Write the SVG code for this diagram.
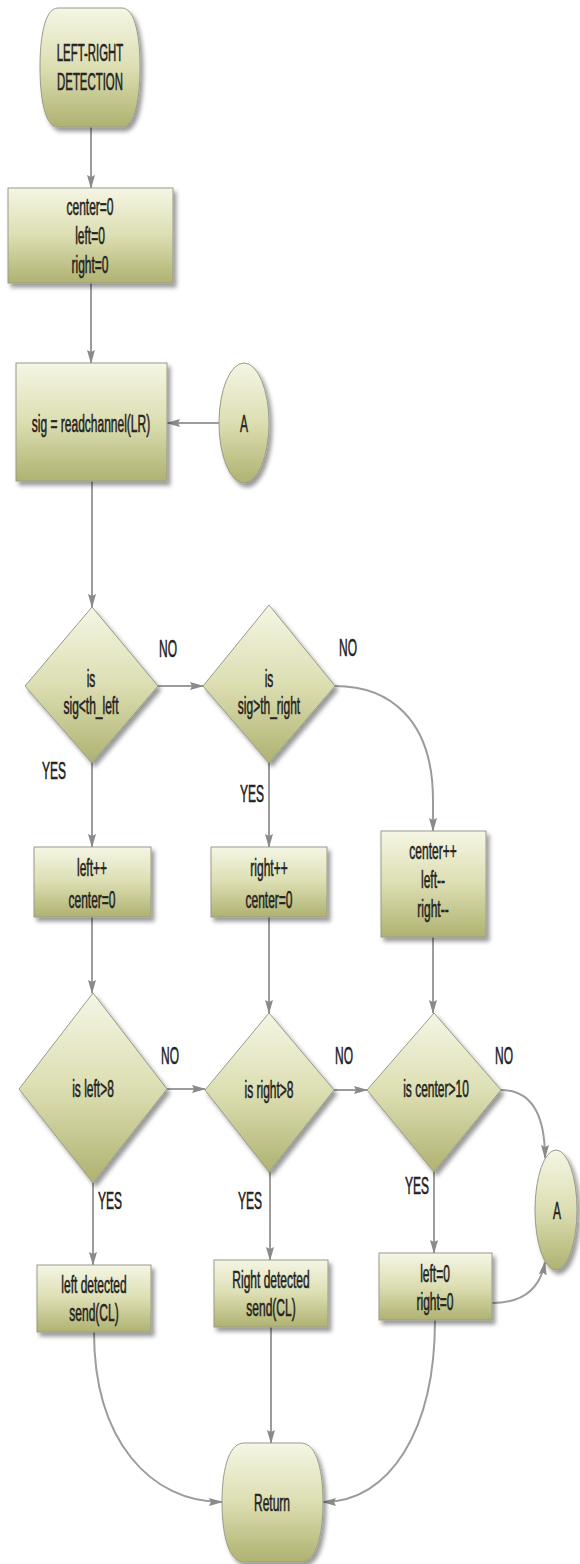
<svg xmlns="http://www.w3.org/2000/svg" width="580" height="1564" viewBox="0 0 580 1564">
<defs>
<style>
.n{fill:url(#g);stroke:#9a9a8a;stroke-width:1;filter:url(#sh)}
.t{font-family:"Liberation Sans",Arial,sans-serif;font-size:24px;fill:#222;stroke:#222;stroke-width:0.6;text-anchor:middle}
.c{fill:none;stroke:#9c9c9c;stroke-width:2}
.a{marker-end:url(#ar)}
</style>
<linearGradient id="g" x1="0" y1="0" x2="0" y2="1">
<stop offset="0" stop-color="#f5f6e4"/>
<stop offset="0.5" stop-color="#dcdeb2"/>
<stop offset="1" stop-color="#afb270"/>
</linearGradient>
<filter id="sh" x="-20%" y="-20%" width="150%" height="150%">
<feDropShadow dx="3" dy="4" stdDeviation="2" flood-color="#000" flood-opacity="0.4"/>
</filter>
<marker id="ar" viewBox="0 0 14 8" refX="13" refY="4" markerWidth="14" markerHeight="8" markerUnits="userSpaceOnUse" orient="auto">
<path d="M0,0 L14,4 L0,8 L2,4 Z" fill="#8a8a8a"/>
</marker>
</defs>
<rect width="580" height="1564" fill="#fff"/>
<g id="connectors">
<path class="c a" d="M91,127 V188"/>
<path class="c a" d="M91,283 V363"/>
<path class="c a" d="M219,423 H167"/>
<path class="c a" d="M92,481 V607"/>
<path class="c a" d="M158,686 H203"/>
<path class="c a" d="M92,763 V847"/>
<path class="c a" d="M269,763 V847"/>
<path class="c a" d="M335,686 C390,686 433,720 433,800 L433,831"/>
<path class="c a" d="M92,917 V993"/>
<path class="c a" d="M269,917 V1013"/>
<path class="c a" d="M433,937 V1013"/>
<path class="c a" d="M167,1089 H205"/>
<path class="c a" d="M334,1090 H367"/>
<path class="c a" d="M501,1090 C530,1090 545,1112 545,1158"/>
<path class="c a" d="M93,1183 V1265"/>
<path class="c a" d="M270,1172 V1260"/>
<path class="c a" d="M434,1172 V1253"/>
<path class="c a" d="M492,1303 C522,1303 540,1290 545,1262"/>
<path class="c a" d="M94,1332 C94,1440 150,1502 222,1502"/>
<path class="c a" d="M271,1327 V1443"/>
<path class="c a" d="M435,1320 C435,1430 390,1502 323,1502"/>
</g>
<g id="start">
<path class="n" d="M58,8 H122 C136,8 140,40 140,67 C140,95 136,127 122,127 H58 C44,127 40,95 40,67 C40,40 44,8 58,8 Z"/>
<text class="t" transform="translate(90,61) scale(0.475,1)">LEFT-RIGHT</text>
<text class="t" transform="translate(90,90) scale(0.475,1)">DETECTION</text>
</g>
<g id="init">
<rect class="n" x="8" y="188" width="165" height="95"/>
<text class="t" transform="translate(90,215) scale(0.5,1)">center=0</text>
<text class="t" transform="translate(90,244) scale(0.5,1)">left=0</text>
<text class="t" transform="translate(90,273) scale(0.5,1)">right=0</text>
</g>
<g id="read">
<rect class="n" x="16" y="363" width="151" height="118"/>
<text class="t" transform="translate(91,432) scale(0.5,1)">sig = readchannel(LR)</text>
</g>
<g id="connA1">
<ellipse class="n" cx="244" cy="423" rx="25" ry="60"/>
<text class="t" transform="translate(244,432) scale(0.5,1)">A</text>
</g>
<g id="d1">
<polygon class="n" points="92,607 158,686 92,763 25,686"/>
<text class="t" transform="translate(91,687) scale(0.5,1)">is</text>
<text class="t" transform="translate(91,714) scale(0.5,1)">sig&lt;th_left</text>
</g>
<g id="d2">
<polygon class="n" points="269,605 335,686 269,763 203,686"/>
<text class="t" transform="translate(269,687) scale(0.5,1)">is</text>
<text class="t" transform="translate(269,714) scale(0.5,1)">sig&gt;th_right</text>
</g>
<g id="leftinc">
<rect class="n" x="34" y="847" width="117" height="70"/>
<text class="t" transform="translate(92,876) scale(0.5,1)">left++</text>
<text class="t" transform="translate(92,908) scale(0.5,1)">center=0</text>
</g>
<g id="rightinc">
<rect class="n" x="211" y="847" width="116" height="70"/>
<text class="t" transform="translate(269,876) scale(0.5,1)">right++</text>
<text class="t" transform="translate(269,908) scale(0.5,1)">center=0</text>
</g>
<g id="centerinc">
<rect class="n" x="381" y="831" width="105" height="106"/>
<text class="t" transform="translate(433,859) scale(0.5,1)">center++</text>
<text class="t" transform="translate(433,888) scale(0.5,1)">left--</text>
<text class="t" transform="translate(433,917) scale(0.5,1)">right--</text>
</g>
<g id="d3">
<polygon class="n" points="93,993 167,1089 93,1183 19,1089"/>
<text class="t" transform="translate(93,1097) scale(0.5,1)">is left&gt;8</text>
</g>
<g id="d4">
<polygon class="n" points="269,1013 334,1090 269,1172 205,1090"/>
<text class="t" transform="translate(269,1098) scale(0.5,1)">is right&gt;8</text>
</g>
<g id="d5">
<polygon class="n" points="434,1013 501,1090 434,1172 367,1090"/>
<text class="t" transform="translate(436,1097) scale(0.5,1)">is center&gt;10</text>
</g>
<g id="connA2">
<ellipse class="n" cx="556" cy="1210" rx="21" ry="60"/>
<text class="t" transform="translate(557,1219) scale(0.5,1)">A</text>
</g>
<g id="leftdet">
<rect class="n" x="37" y="1265" width="114" height="67"/>
<text class="t" transform="translate(94,1293) scale(0.5,1)">left detected</text>
<text class="t" transform="translate(94,1321) scale(0.5,1)">send(CL)</text>
</g>
<g id="rightdet">
<rect class="n" x="214" y="1260" width="114" height="67"/>
<text class="t" transform="translate(271,1288) scale(0.5,1)">Right detected</text>
<text class="t" transform="translate(271,1316) scale(0.5,1)">send(CL)</text>
</g>
<g id="reset">
<rect class="n" x="379" y="1253" width="113" height="67"/>
<text class="t" transform="translate(435,1282) scale(0.5,1)">left=0</text>
<text class="t" transform="translate(435,1310) scale(0.5,1)">right=0</text>
</g>
<g id="return">
<path class="n" d="M244,1443 H301 C318,1443 323,1475 323,1502 C323,1530 318,1562 301,1562 H244 C227,1562 222,1530 222,1502 C222,1475 227,1443 244,1443 Z"/>
<text class="t" transform="translate(272,1511) scale(0.5,1)">Return</text>
</g>
<g id="labels">
<text class="t" transform="translate(168,657) scale(0.5,1)">NO</text>
<text class="t" transform="translate(348,656) scale(0.5,1)">NO</text>
<text class="t" transform="translate(54,779) scale(0.5,1)">YES</text>
<text class="t" transform="translate(252,802) scale(0.5,1)">YES</text>
<text class="t" transform="translate(170,1064) scale(0.5,1)">NO</text>
<text class="t" transform="translate(344,1064) scale(0.5,1)">NO</text>
<text class="t" transform="translate(504,1064) scale(0.5,1)">NO</text>
<text class="t" transform="translate(110,1209) scale(0.5,1)">YES</text>
<text class="t" transform="translate(250,1209) scale(0.5,1)">YES</text>
<text class="t" transform="translate(417,1194) scale(0.5,1)">YES</text>
</g>
</svg>
